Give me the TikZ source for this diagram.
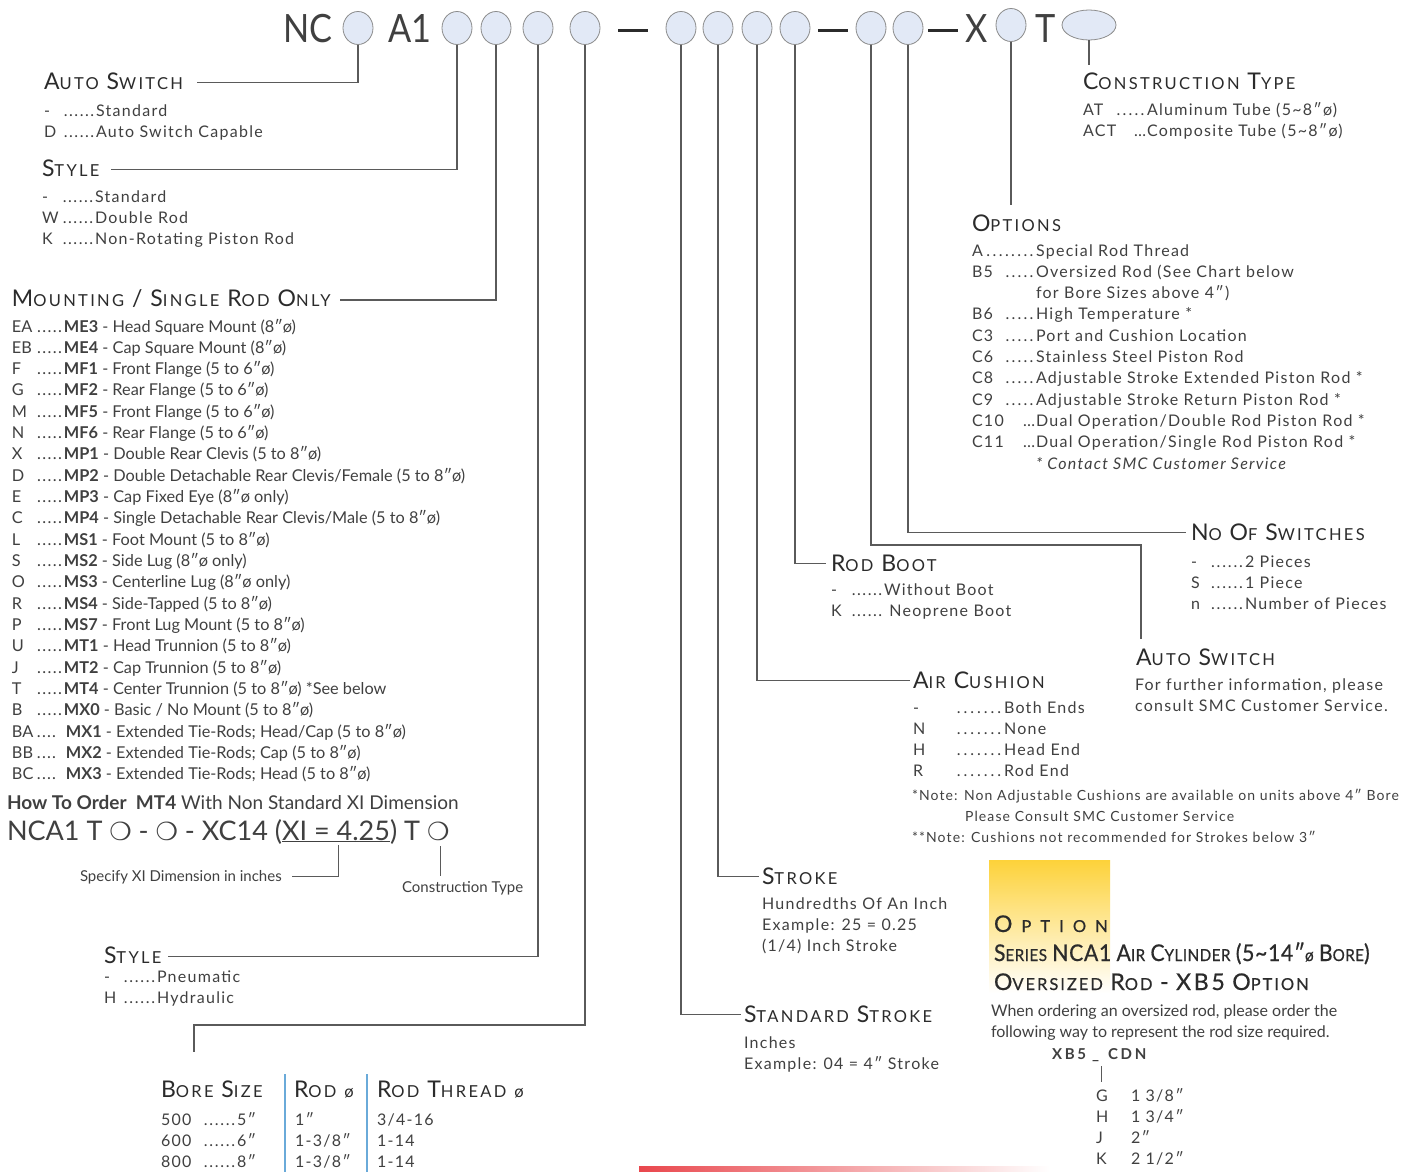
\documentclass[tikz,border=0pt]{standalone}
\usepackage{fontspec}
\usetikzlibrary{shapes.geometric}
\setmainfont{Lato}[LetterSpace=8]
\newfontfamily\nfont{Lato}
\newfontfamily\hfont{Lato}[LetterSpace=14]
\newfontfamily\cfont{Lato}
\newfontfamily\bigfont{Lato}[FakeStretch=0.88]
\newfontfamily\bxfont{Lato}[LetterSpace=3,FakeStretch=0.92,FakeBold=0.6]
\newfontfamily\bxofont{Lato}[LetterSpace=12,FakeBold=0.6]
\newfontfamily\wfont{Lato}[LetterSpace=55,FakeBold=0.6]
\newfontfamily\xbfont{Lato}[LetterSpace=18]
\newfontfamily\dvfont{DejaVu Sans}
\definecolor{tcol}{HTML}{404040}
\definecolor{hcol}{HTML}{2B2B2B}
\definecolor{lcol}{HTML}{5A5A5A}
\definecolor{ovfill}{HTML}{E2E9F6}
\definecolor{ovdraw}{HTML}{8C8C8C}
\definecolor{sepblue}{HTML}{6AAAD9}
\definecolor{gold}{HTML}{FDD23A}
\definecolor{redbar}{HTML}{E9474D}
\newcommand\Hb[1]{{\fontsize{23}{23}\selectfont #1}}
\newcommand\Hs[1]{{\fontsize{16.5}{16.5}\selectfont #1}}
\newcommand\lst[3]{\begin{tabular}[t]{@{}p{#1}@{}l@{}}#3\end{tabular}}
\newcommand\pd[2]{\makebox[#1][l]{\xleaders\hbox to #2{\hss.\hss}\hfill\hspace*{1pt}}}
\newcommand\ed[1]{\pd{#1}{5.3pt}}
\newcommand\es[1]{\makebox[#1][r]{…\hspace*{1pt}}}
\newcommand\circsym{{\dvfont\fontsize{25}{25}\selectfont ❍}}
\begin{document}
\begin{tikzpicture}[x=1pt,y=-1pt,
  txt/.style={anchor=base west,inner sep=0pt,outer sep=0pt,text=tcol,font=\fontsize{16}{21.3}\selectfont},
  ctxt/.style={anchor=base west,inner sep=0pt,outer sep=0pt,text=tcol,font=\cfont\fontsize{16.3}{21.33}\selectfont},
  hd/.style={anchor=base west,inner sep=0pt,outer sep=0pt,text=hcol,font=\hfont\fontsize{20}{20}\selectfont},
  bx/.style={anchor=base west,inner sep=0pt,outer sep=0pt,text=hcol,font=\bxfont\fontsize{20}{20}\selectfont},
  big/.style={anchor=base west,inner sep=0pt,outer sep=0pt,text=hcol!90,font=\bigfont\fontsize{39}{39}\selectfont},
  dashbar/.style={fill=hcol,inner sep=0pt,minimum width=30pt,minimum height=3pt},
  oval/.style={ellipse,draw=ovdraw,fill=ovfill,line width=0.8pt,minimum width=30pt,minimum height=33pt,inner sep=0pt},
  conn/.style={draw=lcol,line width=1.1pt}]
\useasboundingbox (0,0) rectangle (1425,1172);
\fill[white] (0,0) rectangle (1425,1172);

% decorative shadings
\shade[top color=gold,middle color=gold!55!white,bottom color=white] (989,860) rectangle (1110,993);
\shade[left color=redbar,right color=white] (639,1166) rectangle (1050,1172);
\draw[sepblue,line width=1.2pt] (285,1074) -- (285,1172);
\draw[sepblue,line width=1.2pt] (367,1074) -- (367,1172);

% header
\node[big] (tNC) at (283,43) {NC};
\node[big] (tA1) at (388,43) {A1};
\node[big] (tX) at (965,43) {X};
\node[big] (tT) at (1035,43) {T};
\node[dashbar] (d1) at (633,31) {};
\node[dashbar] (d2) at (833,31) {};
\node[dashbar] (d3) at (943,31) {};
\node[oval] (e1) at (358,28) {};
\node[oval] (e2) at (457,28) {};
\node[oval] (e3) at (496,28) {};
\node[oval] (e4) at (538,28) {};
\node[oval] (e5) at (585,28) {};
\node[oval] (e6) at (681,28) {};
\node[oval] (e7) at (718,28) {};
\node[oval] (e8) at (757,28) {};
\node[oval] (e9) at (795,28) {};
\node[oval] (e10) at (871,28) {};
\node[oval] (e11) at (908,28) {};
\node[oval] (e12) at (1011,25) {};
\node[oval,minimum width=54pt,minimum height=30pt] (e13) at (1089,25) {};

% left: auto switch
\node[hd] (hAS) at (44,89) {\Hb{A}\Hs{UTO} \Hb{S}\Hs{WITCH}};
\node[txt] (lAS) at (44,116) {\lst{19pt}{}{- & \ed{33pt}Standard\\ D & \ed{33pt}Auto Switch Capable}};
% style
\node[hd] (hST) at (42,176) {\Hb{S}\Hs{TYLE}};
\node[txt] (lST) at (42,202) {\lst{20pt}{}{- & \ed{33pt}Standard\\ W & \ed{33pt}Double Rod\\ K & \ed{33pt}Non-Rotating Piston Rod}};
% mounting
\node[hd] (hMT) at (12,306) {\Hb{M}\Hs{OUNTING} \Hb{/} \Hb{S}\Hs{INGLE} \Hb{R}\Hs{OD} \Hb{O}\Hs{NLY}};
\node[ctxt] (lMT) at (12,332) {\lst{24pt}{}{%
EA & \pd{28pt}{4.6pt}\textbf{ME3} - Head Square Mount (8″ø)\\
EB & \pd{28pt}{4.6pt}\textbf{ME4} - Cap Square Mount (8″ø)\\
F & \pd{28pt}{4.6pt}\textbf{MF1} - Front Flange (5 to 6″ø)\\
G & \pd{28pt}{4.6pt}\textbf{MF2} - Rear Flange (5 to 6″ø)\\
M & \pd{28pt}{4.6pt}\textbf{MF5} - Front Flange (5 to 6″ø)\\
N & \pd{28pt}{4.6pt}\textbf{MF6} - Rear Flange (5 to 6″ø)\\
X & \pd{28pt}{4.6pt}\textbf{MP1} - Double Rear Clevis (5 to 8″ø)\\
D & \pd{28pt}{4.6pt}\textbf{MP2} - Double Detachable Rear Clevis/Female (5 to 8″ø)\\
E & \pd{28pt}{4.6pt}\textbf{MP3} - Cap Fixed Eye (8″ø only)\\
C & \pd{28pt}{4.6pt}\textbf{MP4} - Single Detachable Rear Clevis/Male (5 to 8″ø)\\
L & \pd{28pt}{4.6pt}\textbf{MS1} - Foot Mount (5 to 8″ø)\\
S & \pd{28pt}{4.6pt}\textbf{MS2} - Side Lug (8″ø only)\\
O & \pd{28pt}{4.6pt}\textbf{MS3} - Centerline Lug (8″ø only)\\
R & \pd{28pt}{4.6pt}\textbf{MS4} - Side-Tapped (5 to 8″ø)\\
P & \pd{28pt}{4.6pt}\textbf{MS7} - Front Lug Mount (5 to 8″ø)\\
U & \pd{28pt}{4.6pt}\textbf{MT1} - Head Trunnion (5 to 8″ø)\\
J & \pd{28pt}{4.6pt}\textbf{MT2} - Cap Trunnion (5 to 8″ø)\\
T & \pd{28pt}{4.6pt}\textbf{MT4} - Center Trunnion (5 to 8″ø) *See below\\
B & \pd{28pt}{4.6pt}\textbf{MX0} - Basic / No Mount (5 to 8″ø)\\
BA & \pd{22pt}{4.4pt}\hspace*{8pt}\textbf{MX1} - Extended Tie-Rods; Head/Cap (5 to 8″ø)\\
BB & \pd{22pt}{4.4pt}\hspace*{8pt}\textbf{MX2} - Extended Tie-Rods; Cap (5 to 8″ø)\\
BC & \pd{22pt}{4.4pt}\hspace*{8pt}\textbf{MX3} - Extended Tie-Rods; Head (5 to 8″ø)}};
% how to order
\node[ctxt,font=\cfont\fontsize{19}{20}\selectfont] (tHow) at (7,809) {\textbf{How To Order\ \ MT4} With Non Standard XI Dimension};
\node[ctxt,font=\cfont\fontsize{27}{28}\selectfont] (tNCA) at (7,840) {NCA1 T \circsym{} - \circsym{} - XC14 (\underline{XI = 4.25}) T \circsym};
\node[ctxt,font=\cfont\fontsize{15}{18}\selectfont] (tSpec) at (80,881) {Specify XI Dimension in inches};
\node[ctxt,font=\cfont\fontsize{15}{18}\selectfont] (tCT) at (402,892) {Construction Type};
\coordinate (u1) at (338,845);
\coordinate (u3) at (440,846);
\draw[conn,line width=0.9pt] (u1) |- ([xshift=10pt]tSpec.east);
\draw[conn,line width=0.9pt] (u3) -- ([yshift=5pt]tCT.north -| u3);
% lower style
\node[hd] (hST2) at (104,963) {\Hb{S}\Hs{TYLE}};
\node[txt] (lST2) at (104,982) {\lst{19pt}{}{- & \ed{34pt}Pneumatic\\ H & \ed{34pt}Hydraulic}};
% bore table
\node[hd] (hBore) at (161,1097) {\Hb{B}\Hs{ORE} \Hb{S}\Hs{IZE}};
\node[hd] (hRod) at (294,1097) {\Hb{R}\Hs{OD} \Hs{ø}};
\node[hd] (hThr) at (377,1097) {\Hb{R}\Hs{OD} \Hb{T}\Hs{HREAD} \Hs{ø}};
\node[txt] (lBore) at (161,1125) {\lst{42pt}{}{500 & \ed{34pt}5″\\ 600 & \ed{34pt}6″\\ 800 & \ed{34pt}8″}};
\node[txt] (lRod) at (295,1125) {\lst{0pt}{}{& 1″\\ & 1-3/8″\\ & 1-3/8″}};
\node[txt] (lThr) at (377,1125) {\lst{0pt}{}{& 3/4-16\\ & 1-14\\ & 1-14}};
\coordinate (b5c) at (194,1025);
\coordinate (b5e) at (194,1052);

% right: construction type
\node[hd] (hCT) at (1083,90) {\Hb{C}\Hs{ONSTRUCTION} \Hb{T}\Hs{YPE}};
\node[txt] (lCT) at (1083,115) {\lst{32pt}{}{AT & \ed{32pt}Aluminum Tube (5\textasciitilde8″ø)\\ ACT & \es{32pt}Composite Tube (5\textasciitilde8″ø)}};
% options
\node[hd] (hOP) at (972,231) {\Hb{O}\Hs{PTIONS}};
\node[txt] (lOP) at (972,256) {\lst{32pt}{}{\multicolumn{2}{@{}l@{}}{\makebox[13pt][l]{A}\pd{51pt}{5.6pt}Special Rod Thread}\\
B5 & \ed{32pt}Oversized Rod (See Chart below\\
 & \hspace*{32pt}for Bore Sizes above 4″)\\
B6 & \ed{32pt}High Temperature *\\
C3 & \ed{32pt}Port and Cushion Location\\
C6 & \ed{32pt}Stainless Steel Piston Rod\\
C8 & \ed{32pt}Adjustable Stroke Extended Piston Rod *\\
C9 & \ed{32pt}Adjustable Stroke Return Piston Rod *\\
C10 & \es{32pt}Dual Operation/Double Rod Piston Rod *\\
C11 & \es{32pt}Dual Operation/Single Rod Piston Rod *\\
 & \hspace*{32pt}\itshape * Contact SMC Customer Service}};
% no of switches
\node[hd] (hNS) at (1191,540) {\Hb{N}\Hs{O} \Hb{O}\Hs{F} \Hb{S}\Hs{WITCHES}};
\node[txt] (lNS) at (1191,567) {\lst{19pt}{}{- & \ed{35pt}2 Pieces\\ S & \ed{35pt}1 Piece\\ n & \ed{35pt}Number of Pieces}};
% rod boot
\node[hd] (hRB) at (831,571) {\Hb{R}\Hs{OD} \Hb{B}\Hs{OOT}};
\node[txt] (lRB) at (831,595) {\lst{20pt}{}{- & \ed{33pt}Without Boot\\ K & \ed{33pt}\ Neoprene Boot}};
% auto switch right
\node[hd] (hAS2) at (1136,665) {\Hb{A}\Hs{UTO} \Hb{S}\Hs{WITCH}};
\node[txt] (lAS2) at (1135,690) {\lst{0pt}{}{& For further information, please\\ & consult SMC Customer Service.}};
% air cushion
\node[hd] (hAC) at (913,688) {\Hb{A}\Hs{IR} \Hb{C}\Hs{USHION}};
\node[txt] (lAC) at (913,713) {\lst{42pt}{}{- & \pd{49pt}{6.1pt}Both Ends\\ N & \pd{49pt}{6.1pt}None\\ H & \pd{49pt}{6.1pt}Head End\\ R & \pd{49pt}{6.1pt}Rod End}};
\node[txt,font=\fontsize{14}{21}\selectfont] (lNote) at (912,800) {\lst{0pt}{}{& *Note: Non Adjustable Cushions are available on units above 4″ Bore\\
 & \hspace*{53pt}Please Consult SMC Customer Service\\
 & **Note: Cushions not recommended for Strokes below 3″}};
% stroke
\node[hd] (hSK) at (762,884) {\Hb{S}\Hs{TROKE}};
\node[txt] (lSK) at (762,909) {\lst{0pt}{}{& Hundredths Of An Inch\\ & Example: 25 = 0.25\\ & (1/4) Inch Stroke}};
% standard stroke
\node[hd] (hSS) at (744,1022) {\Hb{S}\Hs{TANDARD} \Hb{S}\Hs{TROKE}};
\node[txt] (lSS) at (744,1048) {\lst{0pt}{}{& Inches\\ & Example: 04 = 4″ Stroke}};

% oversized rod box
\node[bx,font=\wfont\fontsize{20}{20}\selectfont] (hOpt) at (994,932) {\Hb{O}\hspace{9pt}\Hs{PTION}};
\node[bx] (hSer) at (994,961) {\Hb{S}\Hs{ERIES} \Hb{NCA1} \Hb{A}\Hs{IR} \Hb{C}\Hs{YLINDER} \Hb{(5\textasciitilde14″}\Hs{ø} \Hb{B}\Hs{ORE}\Hb{)}};
\node[bx,font=\bxofont\fontsize{20}{20}\selectfont] (hOv) at (994,990) {\Hb{O}\Hs{VERSIZED} \Hb{R}\Hs{OD} \Hb{-} \Hb{XB5} \Hb{O}\Hs{PTION}};
\node[txt,font=\nfont\fontsize{16}{21}\selectfont] (lWhen) at (991,1016) {\lst{0pt}{}{& When ordering an oversized rod, please order the\\ & following way to represent the rod size required.}};
\node[txt,font=\xbfont\bfseries\fontsize{15}{18}\selectfont] (tXB) at (1052,1059) {XB5\hspace{6pt}\_\hspace{9pt}CDN};
\coordinate (xb1) at (1101,1066);
\coordinate (xb2) at (1101,1082);
\draw[conn,line width=0.9pt] (xb1) -- (xb2);
\node[txt] (lXB) at (1096,1101) {\lst{35pt}{}{G & 1 3/8″\\ H & 1 3/4″\\ J & 2″\\ K & 2 1/2″}};

% connectors
\draw[conn] (e1.south) |- ([xshift=14pt,yshift=-2pt]hAS.east);
\draw[conn] (e2.south) |- ([xshift=12pt,yshift=-2pt]hST.east);
\draw[conn] (e3.south) |- ([xshift=9pt,yshift=-2pt]hMT.east);
\draw[conn] (e4.south) |- ([xshift=7pt,yshift=-2pt]hST2.east);
\draw[conn] (e5.south) |- (b5c) -- (b5e);
\draw[conn] (e6.south) |- ([xshift=-3pt,yshift=-1pt]hSS.west);
\draw[conn] (e7.south) |- ([xshift=-3pt,yshift=-1pt]hSK.west);
\draw[conn] (e8.south) |- ([xshift=-3pt,yshift=-1pt]hAC.west);
\draw[conn] (e9.south) |- ([xshift=-5pt,yshift=-1pt]hRB.west);
\coordinate (k10) at (1141,545);
\draw[conn] (e10.south) |- (k10) -- ([yshift=9pt]hAS2.north -| k10);
\draw[conn] (e11.south) |- ([xshift=-5pt,yshift=-1pt]hNS.west);
\draw[conn] (e12.south) -- ([yshift=9pt]hOP.north -| e12.south);
\draw[conn] (e13.south) -- ([yshift=8pt]hCT.north -| e13.south);
\end{tikzpicture}
\end{document}
